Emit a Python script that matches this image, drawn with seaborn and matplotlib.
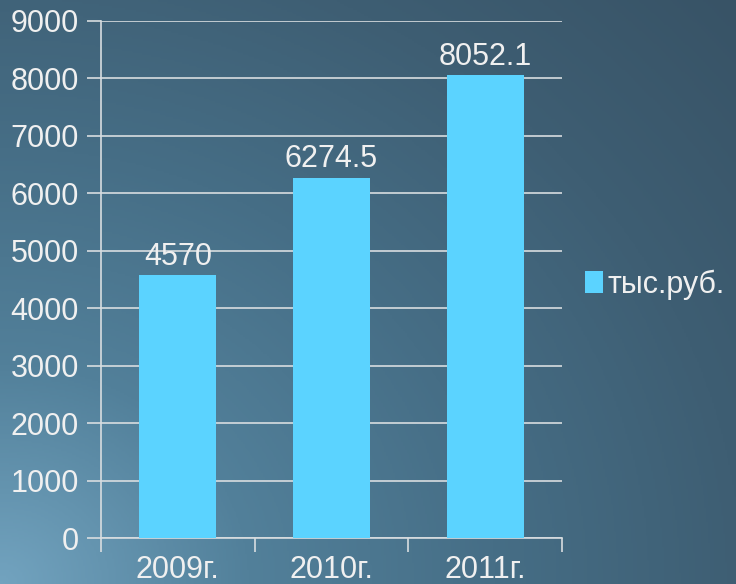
import numpy as np
import pandas as pd
import matplotlib
matplotlib.use("Agg")
import matplotlib.pyplot as plt
import seaborn as sns
from matplotlib.colors import LinearSegmentedColormap

# data
years = ["2009г.", "2010г.", "2011г."]
values = [4570, 6274.5, 8052.1]
value_labels = ["4570", "6274.5", "8052.1"]
series_name = "тыс.руб."

df = pd.DataFrame({"year": years, "value": values})

sns.set_style("white")
plt.rcParams["font.family"] = ["Liberation Sans", "DejaVu Sans"]

fig = plt.figure(figsize=(7.36, 5.84), dpi=100)

# background gradient (light bottom-left -> dark top-right)
bg = fig.add_axes([0, 0, 1, 1], zorder=-10)
yy, xx = np.mgrid[0:1:300j, 0:1:400j]
d = np.sqrt((xx * 1.0) ** 2 + ((1 - yy) * 0.9) ** 2)
cmap_bg = LinearSegmentedColormap.from_list("bg", ["#72a3bf", "#52809a", "#466e86", "#3e5e73", "#385366"])
bg.imshow(d, cmap=cmap_bg, aspect="auto", extent=[0, 1, 0, 1], origin="upper")
bg.axis("off")

ax = fig.add_axes([101 / 736, 1 - 538 / 584, (562 - 101) / 736, (538 - 21) / 584])
ax.patch.set_alpha(0)

sns.barplot(data=df, x="year", y="value", color="#5bd3ff", saturation=1, width=0.5,
            ax=ax, label=series_name, zorder=3, linewidth=0, edgecolor="none")

ax.set_ylim(0, 9000)
ax.set_xlim(-0.5, 2.5)
ax.set_yticks(np.arange(0, 9001, 1000))
ax.yaxis.grid(True, color="#d8dde0", linewidth=1.2, zorder=0)
ax.set_axisbelow(True)
for s in ["top", "right"]:
    ax.spines[s].set_visible(False)
for s in ["left", "bottom"]:
    ax.spines[s].set_color("#d8dde0")
    ax.spines[s].set_linewidth(1.2)

ax.set_xlabel("")
ax.set_ylabel("")
ax.tick_params(axis="y", length=10, width=1.2, color="#d8dde0", labelsize=22,
               labelcolor="#f0f0f0", pad=6, direction="out", left=True)
# x ticks on category boundaries, labels centered
ax.set_xticks([-0.5, 0.5, 1.5, 2.5])
ax.set_xticklabels([])
ax.set_xticks([0, 1, 2], minor=True)
ax.set_xticklabels(years, minor=True)
ax.tick_params(axis="x", which="major", length=10, width=1.2, color="#d8dde0", bottom=True)
ax.tick_params(axis="x", which="minor", length=0, labelsize=22, labelcolor="#f0f0f0", pad=12)

for i, (v, t) in enumerate(zip(values, value_labels)):
    ax.text(i, v + 60, t, ha="center", va="bottom", fontsize=22, color="#f0f0f0")

leg = ax.legend(loc="center left", bbox_to_anchor=(0.99, 0.49), frameon=False,
                fontsize=22, handlelength=0.6, handleheight=0.7, handletextpad=0.15,
                labelcolor="#f0f0f0")

fig.savefig("out.png", dpi=100)
